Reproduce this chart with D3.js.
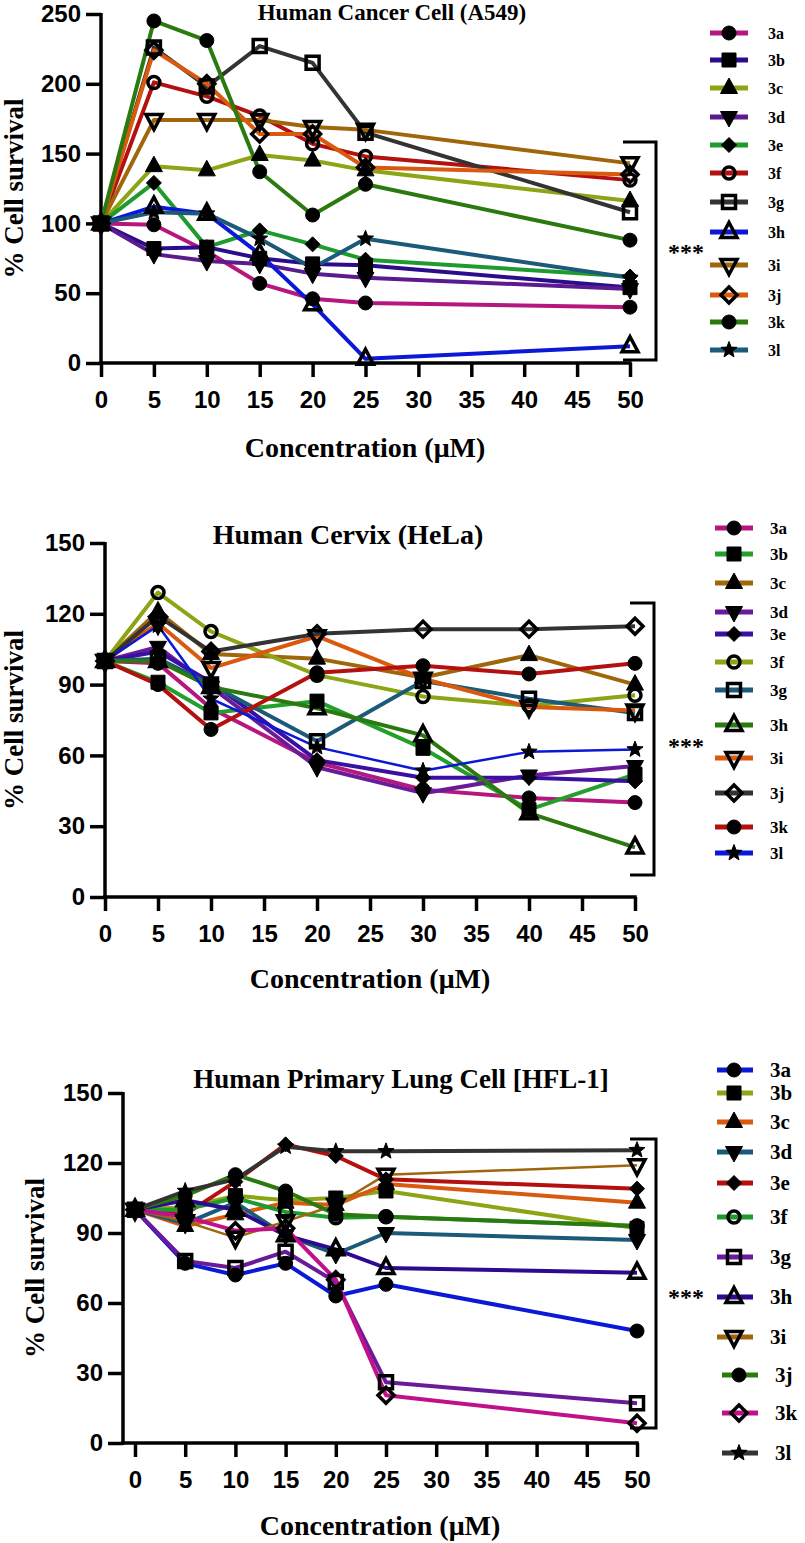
<!DOCTYPE html>
<html><head><meta charset="utf-8">
<script src="https://cdn.jsdelivr.net/npm/d3@7"></script>
<style>body{margin:0;background:#fff}svg{display:block}</style>
</head><body>
<svg id="c" width="805" height="1543"></svg>
<script>
// ---------------- DATA ----------------
const seriesNames = ["3a","3b","3c","3d","3e","3f","3g","3h","3i","3j","3k","3l"];
const xTickValues = [0,5,10,15,20,25,30,35,40,45,50];

// Panel 1: Human Cancer Cell (A549)
const a549Conc = [0,5,10,15,20,25,50];
const a549YTicks = [0,50,100,150,200,250];
const a549_3a = [100, 99, 80, 57, 46, 43, 40];
const a549_3b = [100, 82, 83, 75, 71, 70, 54];
const a549_3c = [100, 141, 138, 149, 145, 138, 116];
const a549_3d = [100, 78, 73, 71, 64, 61, 53];
const a549_3e = [100, 129, 83, 95, 85, 74, 62];
const a549_3f = [100, 201, 191, 177, 157, 148, 131];
const a549_3g = [100, 226, 198, 227, 215, 165, 108];
const a549_3h = [100, 112, 107, 78, 42, 3, 12];
const a549_3i = [100, 174, 174, 174, 169, 167, 143];
const a549_3j = [100, 224, 200, 164, 164, 140, 135];
const a549_3k = [100, 245, 231, 137, 106, 128, 88];
const a549_3l = [100, 108, 107, 89, 68, 89, 61];

// Panel 2: Human Cervix (HeLa)
const helaConc = [0,5,10,20,30,40,50];
const helaYTicks = [0,30,60,90,120,150];
const hela_3a = [100, 99, 80, 57, 45.5, 42, 40];
const hela_3b = [100, 91, 78, 83, 63, 37, 52];
const hela_3c = [100, 121, 103, 101, 93, 102.5, 90];
const hela_3d = [100, 106, 89, 55, 44, 51.5, 55.5];
const hela_3e = [100, 104, 91, 58, 50.5, 50.5, 49];
const hela_3f = [100, 129, 112.5, 94, 85, 81, 85.5];
const hela_3g = [100, 101, 90, 66, 91.5, 84, 78];
const hela_3h = [100, 100, 89, 80, 68.5, 35.5, 21];
const hela_3i = [100, 116, 97, 110.5, 92.5, 80.5, 79];
const hela_3j = [100, 119, 104, 111.5, 113.5, 113.5, 114.7];
const hela_3k = [100, 90, 71, 95, 98, 94.5, 99];
const hela_3l = [100, 115, 84, 63.5, 53.5, 61.5, 62.5];

// Panel 3: Human Primary Lung Cell [HFL-1]
const hflConc = [0,5,10,15,20,25,50];
const hflYTicks = [0,30,60,90,120,150];
const hfl_3a = [100, 77, 72, 77, 63, 68, 48];
const hfl_3b = [100, 101, 106, 104, 105, 108, 92];
const hfl_3c = [100, 93, 98, 103, 102, 111, 103];
const hfl_3d = [100, 94, 103, 89, 81, 90, 87];
const hfl_3e = [100, 98, 112, 128, 123, 113, 109];
const hfl_3f = [100, 100, 105, 99, 96.5, 97, 93];
const hfl_3g = [100, 78, 75, 82, 69, 26, 17];
const hfl_3h = [100, 104, 100, 89, 83, 75, 73];
const hfl_3i = [100, 95, 88, 95, 102, 115, 119];
const hfl_3j = [100, 106, 115, 108, 98, 97, 93];
const hfl_3k = [100, 97, 91, 92, 70, 20.5, 8.5];
const hfl_3l = [100, 108, 113, 127, 125, 125, 125.5];

// ---------------- STYLE / LAYOUT ----------------
const markersAB = ['circle','square','triangle','triangleDown','diamond','ocircle','osquare','otriangle','otriangleDown','odiamond','circle','star'];
const markersC  = ['circle','square','triangle','triangleDown','diamond','ocircle','osquare','otriangle','otriangleDown','circle','odiamond','star'];
const panels = [
  {
    title:"Human Cancer Cell (A549)", conc:a549Conc, yTicks:a549YTicks, yMax:250, markers:markersAB,
    values:[a549_3a,a549_3b,a549_3c,a549_3d,a549_3e,a549_3f,a549_3g,a549_3h,a549_3i,a549_3j,a549_3k,a549_3l],
    colors:['#b5177e','#2b0c8c','#8ba514','#5b1a8e','#1f9a2e','#b3100f','#333333','#0b18d6','#a0660c','#d9590f','#2b7a0f','#1b5a78'],
    widths:[4,4,4,4,4,4,4,4,4,4,4,4],
    x0:101, x1:630, axisX:101, y0:363, y1:14,
    titleX:392, titleY:20, titleSize:23,
    xTitleX:365, xTitleY:457, yTitleX:14, labelSize:16,
    legLine:[710,748], legMark:729, legLabel:768, legShift:[0,0,0,0,0,0,0,0,0,0,0,0],
    legRows:[33,60,88,117,145,173,202,232,265,295,322,350],
    bracket:[623,656,142,360], starsY:252
  },
  {
    title:"Human Cervix (HeLa)", conc:helaConc, yTicks:helaYTicks, yMax:150, markers:markersAB,
    values:[hela_3a,hela_3b,hela_3c,hela_3d,hela_3e,hela_3f,hela_3g,hela_3h,hela_3i,hela_3j,hela_3k,hela_3l],
    colors:['#b5177e','#23a02b','#a0660c','#6a1b9a','#3a10a0','#8ba514','#1b5a78','#2b7a0f','#d9590f','#333333','#b3100f','#0b18d6'],
    widths:[4,4,4,4,4,4,4,4,4,4,4,2.5],
    x0:105, x1:635, axisX:105, y0:897, y1:543,
    titleX:348, titleY:544, titleSize:28,
    xTitleX:370, xTitleY:988, yTitleX:14, labelSize:17,
    legLine:[715,753], legMark:734, legLabel:770, legShift:[0,0,0,0,0,0,0,0,0,0,0,0],
    legRows:[528,554,583,612,634,662,690,725,758,793,827,853],
    bracket:[630,654,603,875], starsY:746
  },
  {
    title:"Human Primary Lung Cell [HFL-1]", conc:hflConc, yTicks:hflYTicks, yMax:150, markers:markersC,
    values:[hfl_3a,hfl_3b,hfl_3c,hfl_3d,hfl_3e,hfl_3f,hfl_3g,hfl_3h,hfl_3i,hfl_3j,hfl_3k,hfl_3l],
    colors:['#0b18d6','#8ba514','#d9590f','#1b5a78','#b3100f','#1f9a2e','#6a1b9a','#2d0a90','#a0660c','#2b7a0f','#c0108a','#333333'],
    widths:[4,4,4,4,4,4,4,4,2.5,4,4,4],
    x0:135, x1:637, axisX:123, y0:1443, y1:1093,
    titleX:401, titleY:1088, titleSize:27,
    xTitleX:380, xTitleY:1535, yTitleX:35, labelSize:21,
    legLine:[717,753], legMark:734, legLabel:770, legShift:[0,0,0,0,0,0,0,0,0,5,5,5],
    legRows:[1070,1093,1122,1152,1183,1217,1257,1297,1337,1375,1413,1453],
    bracket:[630,656,1139,1428], starsY:1297
  }
];

function circ(r){return `M${r},0A${r},${r} 0 1 1 ${-r},0A${r},${r} 0 1 1 ${r},0Z`;}
function shapePath(t){
  switch(t){
    case 'circle': return circ(7);
    case 'ocircle': return circ(6);
    case 'square': return 'M-7,-7H7V7H-7Z';
    case 'osquare': return 'M-6.5,-6.5H6.5V6.5H-6.5Z';
    case 'triangle': return 'M0,-10L8.5,5.5L-8.5,5.5Z';
    case 'otriangle': return 'M0,-9.5L8,5.5L-8,5.5Z';
    case 'triangleDown': return 'M0,10L8.5,-5.5L-8.5,-5.5Z';
    case 'otriangleDown': return 'M0,9.5L8,-5.5L-8,-5.5Z';
    case 'diamond': return 'M0,-7.5L7.5,0L0,7.5L-7.5,0Z';
    case 'odiamond': return 'M0,-8L8,0L0,8L-8,0Z';
    case 'star': {
      let p=[]; for(let i=0;i<10;i++){const r=i%2?3.6:8.5; const a=-Math.PI/2+i*Math.PI/5; p.push([r*Math.cos(a),r*Math.sin(a)]);}
      return 'M'+p.map(d=>d[0].toFixed(2)+','+d[1].toFixed(2)).join('L')+'Z';
    }
  }
}
function isOpen(t){return t[0]==='o';}

const svg = d3.select('#c');
const sans = "'Liberation Sans', Arial, sans-serif";
const serif = "'Liberation Serif', 'Times New Roman', serif";

panels.forEach(P=>{
  const g = svg.append('g');
  const x = d3.scaleLinear().domain([0,50]).range([P.x0,P.x1]);
  const y = d3.scaleLinear().domain([0,P.yMax]).range([P.y0,P.y1]);

  // axes
  const ya = g.append('g').attr('transform',`translate(${P.axisX},0)`)
    .call(d3.axisLeft(y).tickValues(P.yTicks).tickSize(15).tickSizeOuter(0).tickPadding(5));
  const xa = g.append('g').attr('transform',`translate(0,${P.y0})`)
    .call(d3.axisBottom(x).tickValues(xTickValues).tickSize(14).tickSizeOuter(0).tickPadding(14));
  [ya,xa].forEach(a=>{
    a.select('.domain').remove();
    a.selectAll('line').attr('stroke','#000').attr('stroke-width',3.5);
    a.selectAll('text').attr('fill','#000').style('font-family',sans).style('font-weight','bold').style('font-size','24px');
  });
  g.append('line').attr('x1',P.axisX).attr('x2',P.axisX).attr('y1',y(P.yMax)-1).attr('y2',P.y0+1.75)
    .attr('stroke','#000').attr('stroke-width',3.5);
  g.append('line').attr('x1',P.axisX-1.75).attr('x2',x(50)+1.75).attr('y1',P.y0).attr('y2',P.y0)
    .attr('stroke','#000').attr('stroke-width',3.5);

  // titles
  g.append('text').attr('x',P.titleX).attr('y',P.titleY).attr('text-anchor','middle')
    .style('font-family',serif).style('font-weight','bold').style('font-size',P.titleSize+'px').text(P.title);
  g.append('text').attr('x',P.xTitleX).attr('y',P.xTitleY).attr('text-anchor','middle')
    .style('font-family',serif).style('font-weight','bold').style('font-size','28px').text('Concentration (μM)');
  g.append('text').attr('transform',`translate(${P.yTitleX},${(P.y0+y(P.yMax))/2}) rotate(-90)`)
    .attr('text-anchor','middle').attr('dominant-baseline','central')
    .style('font-family',serif).style('font-weight','bold').style('font-size','27px').text('% Cell survival');

  const line = d3.line().x(d=>x(d[0])).y(d=>y(d[1]));
  P.values.forEach((vals,i)=>{
    const pts = P.conc.map((c,j)=>[c,vals[j]]);
    g.append('path').attr('d',line(pts)).attr('fill','none').attr('stroke',P.colors[i])
      .attr('stroke-width',P.widths[i]).attr('stroke-linejoin','round');
  });
  P.values.forEach((vals,i)=>{
    const t = P.markers[i];
    g.selectAll(null).data(P.conc.map((c,j)=>[c,vals[j]])).enter().append('path')
      .attr('transform',d=>`translate(${x(d[0])},${y(d[1])})`).attr('d',shapePath(t))
      .attr('fill',isOpen(t)?'none':'#000').attr('stroke','#000').attr('stroke-width',isOpen(t)?3.5:1);
  });

  // legend
  seriesNames.forEach((n,i)=>{
    const ry = P.legRows[i], dx = P.legShift[i];
    g.append('line').attr('x1',P.legLine[0]+dx).attr('x2',P.legLine[1]+dx).attr('y1',ry).attr('y2',ry)
      .attr('stroke',P.colors[i]).attr('stroke-width',5);
    const t = P.markers[i];
    g.append('path').attr('transform',`translate(${P.legMark+dx},${ry})`).attr('d',shapePath(t))
      .attr('fill',isOpen(t)?'none':'#000').attr('stroke','#000').attr('stroke-width',isOpen(t)?3.5:1);
    g.append('text').attr('x',P.legLabel+dx).attr('y',ry).attr('dominant-baseline','central')
      .style('font-family',serif).style('font-weight','bold').style('font-size',P.labelSize+'px').text(n);
  });

  // significance bracket
  const b = P.bracket;
  g.append('path').attr('d',`M${b[0]},${b[2]}H${b[1]}V${b[3]}H${b[0]}`).attr('fill','none')
    .attr('stroke','#000').attr('stroke-width',3);
  g.append('text').attr('x',686).attr('y',P.starsY).attr('text-anchor','middle').attr('dominant-baseline','central')
    .style('font-family',serif).style('font-weight','bold').style('font-size','24px').text('***');
});
</script>
</body></html>
